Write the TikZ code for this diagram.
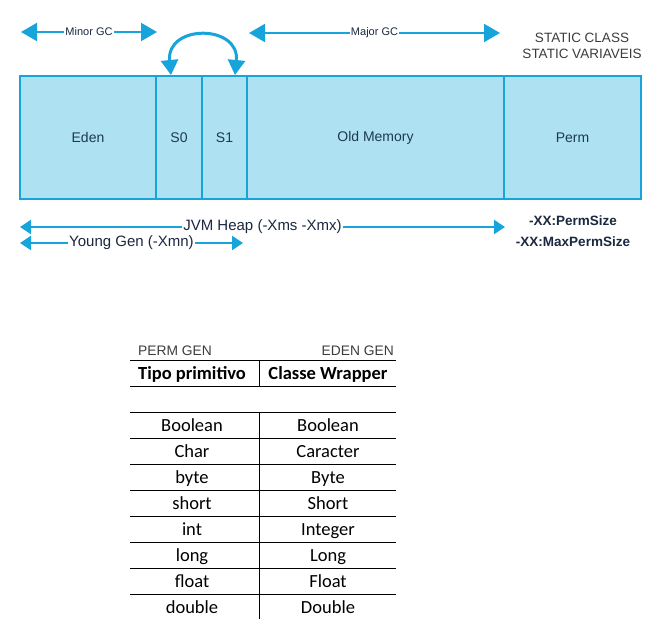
\documentclass[tikz,border=0pt]{standalone}
\usepackage{fontspec}
\setmainfont{Liberation Sans}
\newfontfamily\tabfont{Carlito}
\usetikzlibrary{arrows.meta}
\definecolor{gcblue}{RGB}{22,164,218}
\definecolor{gcfill}{RGB}{174,225,242}
\definecolor{boxtext}{RGB}{30,58,78}
\definecolor{navytext}{RGB}{26,40,64}
\definecolor{graytext}{RGB}{60,60,60}
\tikzset{
  region/.style={draw=gcblue, fill=gcfill, line width=2pt, inner sep=0pt,
    minimum height=123pt, text=boxtext, font=\fontsize{14}{16}\selectfont},
  bigarrow/.style={draw=gcblue, line width=2pt,
    {Triangle[length=16pt,width=18pt]}-{Triangle[length=16pt,width=18pt]}},
  heaparrow/.style={draw=gcblue, line width=2pt,
    {Triangle[length=11pt,width=14pt]}-{Triangle[length=11pt,width=14pt]}},
  swaparrow/.style={draw=gcblue, line width=3pt,
    {Triangle[length=15pt,width=17pt]}-{Triangle[length=15pt,width=17pt]}},
  gclabel/.style={fill=white, inner sep=1pt, text=navytext, font=\fontsize{11}{13}\selectfont},
  heaplabel/.style={fill=white, inner sep=1pt, text=navytext, font=\fontsize{15}{17}\selectfont},
  permopt/.style={text=navytext, font=\bfseries\fontsize{13.5}{15}\selectfont},
  cell/.style={font=\tabfont\fontsize{18.5}{20}\selectfont, inner sep=0pt, anchor=base},
  hcell/.style={font=\tabfont\bfseries\fontsize{18.5}{20}\selectfont, inner sep=0pt, anchor=base},
  genlabel/.style={text=graytext, font=\fontsize{13.8}{15}\selectfont, inner sep=0pt},
  rule/.style={draw=black, line width=1pt}
}
\begin{document}
\begin{tikzpicture}[x=1pt,y=-1pt]
\useasboundingbox (0,0) rectangle (664,621);
% memory regions
\node[region, minimum width=136pt] (eden) at (88,137.5) {Eden};
\node[region, minimum width=46pt] (s0) at (179,137.5) {S0};
\node[region, minimum width=45pt] (s1) at (224.5,137.5) {S1};
\node[region, minimum width=257pt] (old) at (375.5,137.5) {Old Memory};
\node[region, minimum width=137pt] (perm) at (572.5,137.5) {Perm};
% minor / major GC
\coordinate (mi1) at (21,32);
\coordinate (mi2) at (157,32);
\draw[bigarrow] (mi1) -- (mi2) node[midway, gclabel] {Minor GC};
\coordinate (ma1) at (249,33);
\coordinate (ma2) at (500,33);
\draw[bigarrow] (ma1) -- (ma2) node[midway, gclabel] {Major GC};
% swap arc
\coordinate (sw1) at (171,75);
\coordinate (sw2) at (235,75);
\draw[swaparrow] (sw1) .. controls (166,24) and (240,24) .. (sw2);
% static labels
\node[text=graytext, font=\fontsize{13.5}{16}\selectfont, align=center] (static) at (582,46) {STATIC CLASS\\STATIC VARIAVEIS};
% heap arrows
\coordinate (h1) at (20,227);
\coordinate (h2) at (505,227);
\draw[heaparrow] (h1) -- (h2) node[midway, heaplabel] {JVM Heap (-Xms -Xmx)};
\coordinate (y1) at (20,243);
\coordinate (y2) at (243,243);
\draw[heaparrow] (y1) -- (y2) node[midway, heaplabel] {Young Gen (-Xmn)};
\node[permopt] (ps) at (573,221) {-XX:PermSize};
\node[permopt] (mps) at (573,242) {-XX:MaxPermSize};
% table
\node[genlabel, anchor=west] (permgen) at (138,351) {PERM GEN};
\node[genlabel, anchor=east] (edengen) at (394,351) {EDEN GEN};
\draw[rule] (130,360) -- (396,360);
\draw[rule] (130,386) -- (396,386);
\draw[rule] (259,360) -- (259,386);
\node[hcell] (h-left) at (192,379.5) {Tipo primitivo};
\node[hcell] (h-right) at (328,379.5) {Classe Wrapper};
\foreach \i in {0,...,7} {
  \draw[rule] (130,412+26*\i) -- (396,412+26*\i);
}
\draw[rule] (259,412) -- (259,619);
\foreach \a/\b [count=\i from 0] in {Boolean/Boolean, Char/Caracter, byte/Byte, short/Short, int/Integer, long/Long, float/Float, double/Double} {
  \node[cell] (l\i) at (192,431.5+26*\i) {\a};
  \node[cell] (r\i) at (328,431.5+26*\i) {\b};
}
\end{tikzpicture}
\end{document}
